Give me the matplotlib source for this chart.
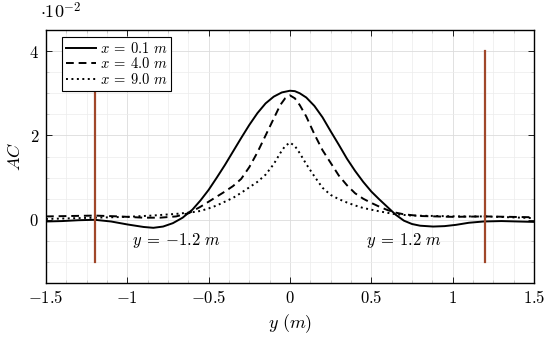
import matplotlib
matplotlib.use("Agg")
import matplotlib.pyplot as plt
from matplotlib.ticker import MultipleLocator, FixedLocator, FuncFormatter

plt.rcParams['mathtext.fontset'] = 'cm'
plt.rcParams['font.family'] = 'serif'
plt.rcParams['font.serif'] = ['DejaVu Serif']

# Data (AC in units of 1e-2)
y_x01 = [-1.5, -1.4, -1.3, -1.2, -1.1, -1.0, -0.9, -0.84, -0.78, -0.72, -0.66, -0.6, -0.55,
         -0.5, -0.45, -0.4, -0.35, -0.3, -0.25, -0.2, -0.15, -0.1, -0.05, 0.0, 0.03, 0.06,
         0.1, 0.15, 0.2, 0.25, 0.3, 0.35, 0.4, 0.45, 0.5, 0.55, 0.6, 0.65, 0.7, 0.75, 0.8,
         0.88, 0.95, 1.02, 1.1, 1.19, 1.3, 1.4, 1.5]
ac_x01 = [-0.04, -0.03, -0.01, 0.0, -0.04, -0.11, -0.17, -0.19, -0.16, -0.08, 0.05, 0.24, 0.46,
          0.71, 1.0, 1.3, 1.62, 1.94, 2.25, 2.53, 2.76, 2.92, 3.02, 3.06, 3.05, 3.0,
          2.9, 2.7, 2.43, 2.1, 1.78, 1.45, 1.16, 0.9, 0.67, 0.48, 0.3, 0.12, -0.02, -0.1, -0.14,
          -0.16, -0.15, -0.12, -0.07, -0.04, -0.03, -0.04, -0.05]
y_x40 = [-1.5, -1.35, -1.2, -1.05, -0.9, -0.8, -0.7, -0.62, -0.55, -0.5, -0.45, -0.4, -0.35,
         -0.3, -0.25, -0.2, -0.15, -0.1, -0.06, -0.03, 0.0, 0.03, 0.06, 0.1, 0.15, 0.2, 0.25,
         0.3, 0.35, 0.4, 0.45, 0.5, 0.55, 0.6, 0.65, 0.7, 0.8, 0.9, 1.0, 1.2, 1.35, 1.5]
ac_x40 = [0.08, 0.09, 0.1, 0.08, 0.05, 0.05, 0.08, 0.16, 0.31, 0.43, 0.55, 0.67, 0.8,
          0.97, 1.25, 1.6, 2.0, 2.4, 2.72, 2.88, 2.95, 2.88, 2.72, 2.45, 2.03, 1.65, 1.35,
          1.05, 0.82, 0.63, 0.5, 0.4, 0.31, 0.23, 0.17, 0.13, 0.09, 0.08, 0.07, 0.08, 0.07, 0.06]
y_x90 = [-1.5, -1.2, -1.0, -0.85, -0.7, -0.6, -0.55, -0.5, -0.45, -0.4, -0.35, -0.3, -0.25,
         -0.2, -0.15, -0.1, -0.06, -0.03, 0.0, 0.03, 0.06, 0.1, 0.15, 0.2, 0.25, 0.3, 0.35,
         0.4, 0.45, 0.5, 0.55, 0.65, 0.75, 0.9, 1.05, 1.2, 1.35, 1.5]
ac_x90 = [0.02, 0.05, 0.07, 0.1, 0.14, 0.18, 0.21, 0.27, 0.34, 0.43, 0.52, 0.64, 0.77,
          0.9, 1.07, 1.32, 1.58, 1.75, 1.83, 1.75, 1.58, 1.32, 1.03, 0.76, 0.59, 0.49, 0.41,
          0.34, 0.28, 0.24, 0.2, 0.13, 0.1, 0.09, 0.08, 0.08, 0.06, 0.04]
labels = [r'$x\:=\:0.1\ m$', r'$x\:=\:4.0\ m$', r'$x\:=\:9.0\ m$']
vlines_x = [-1.2, 1.2]
xticks = [-1.5, -1, -0.5, 0, 0.5, 1, 1.5]
yticks = [0, 2, 4]

fig = plt.figure(figsize=(5.5, 3.39), dpi=100)
ax = fig.add_axes([0.0836, 0.165, 0.8873, 0.7465])

ax.plot(y_x01, ac_x01, color='black', linestyle='-', lw=1.4, label=labels[0])
ax.plot(y_x40, ac_x40, color='black', linestyle=(0, (4, 2.5)), lw=1.4, label=labels[1])
ax.plot(y_x90, ac_x90, color='black', linestyle=(0, (1, 1.8)), lw=1.4, label=labels[2])

for xv in vlines_x:
    ax.plot([xv, xv], [-1, 4], color='#a0472a', lw=1.6)

ax.text(-0.7, -0.5, r'$y\:=\:{-}1.2\ m$', ha='center', va='center', fontsize=12)
ax.text(0.7, -0.5, r'$y\:=\:1.2\ m$', ha='center', va='center', fontsize=12)

ax.set_xlim(-1.5, 1.5)
ax.set_ylim(-1.5, 4.5)
ax.xaxis.set_major_locator(FixedLocator(xticks))
ax.yaxis.set_major_locator(FixedLocator(yticks))
ax.xaxis.set_minor_locator(MultipleLocator(0.125))
ax.yaxis.set_minor_locator(MultipleLocator(0.5))

def fmt(v, pos):
    return r'$%s$' % ('%g' % v)
ax.xaxis.set_major_formatter(FuncFormatter(fmt))
ax.yaxis.set_major_formatter(FuncFormatter(fmt))

ax.grid(True, which='major', color='#dcdcdc', lw=0.6)
ax.grid(True, which='minor', color='#ececec', lw=0.5)
ax.set_axisbelow(True)
ax.tick_params(which='both', direction='in', top=True, right=True, labelsize=12, pad=5)
ax.tick_params(which='major', length=4, width=0.6)
ax.tick_params(which='minor', length=2, width=0.5, color='#bbbbbb')
for sp in ax.spines.values():
    sp.set_linewidth(1.0)

ax.set_xlabel(r'$y\ (m)$', fontsize=13, labelpad=4)
ax.set_ylabel(r'$AC$', fontsize=13, labelpad=4)
fig.text(0.073, 0.935, r'$\cdot 10^{-2}$', fontsize=13, ha='left', va='bottom')

leg = ax.legend(loc='upper left', fontsize=10.5, frameon=True, fancybox=False,
                edgecolor='black', framealpha=1, borderpad=0.25, labelspacing=0.05,
                handlelength=2.1, handletextpad=0.25,
                bbox_to_anchor=(0.033, 0.972), borderaxespad=0.0)
leg.get_frame().set_linewidth(0.8)

fig.savefig('out.png', dpi=100)
